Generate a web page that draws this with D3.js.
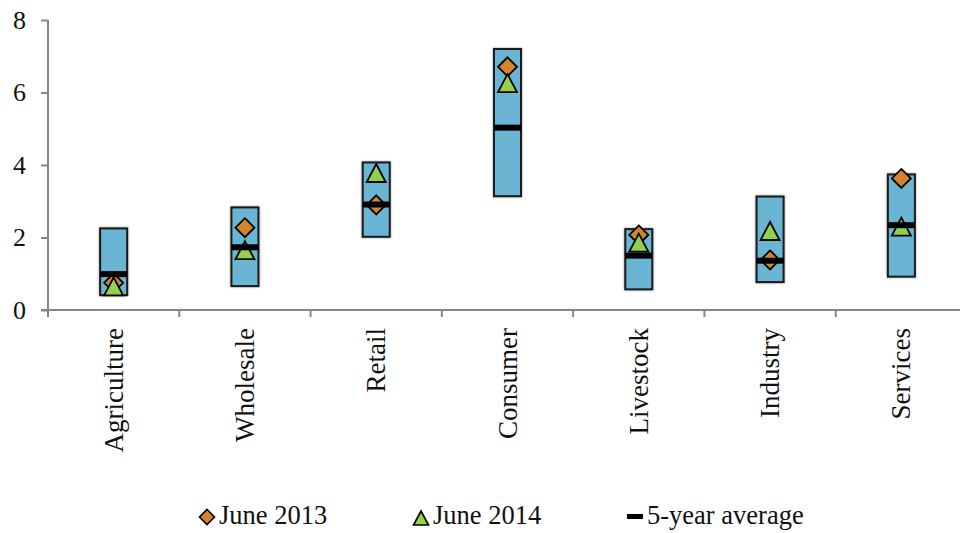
<!DOCTYPE html>
<html>
<head>
<meta charset="utf-8">
<script src="https://cdn.jsdelivr.net/npm/d3@7/dist/d3.min.js"></script>
<style>
  html, body { margin: 0; padding: 0; background: #fff; }
  svg { display: block; }
  text { font-family: "Liberation Serif", "Times New Roman", serif; fill: #111; }
</style>
</head>
<body>
<svg id="chart" width="960" height="533"></svg>
<script>
// Sectors and their ranges
const categories = ["Agriculture", "Wholesale", "Retail", "Consumer", "Livestock", "Industry", "Services"];
const rangeLow   = [0.41, 0.66, 2.02, 3.14, 0.57, 0.77, 0.92];
const rangeHigh  = [2.25, 2.83, 4.07, 7.20, 2.23, 3.13, 3.74];
const june2013   = [0.75, 2.27, 2.90, 6.71, 2.07, 1.38, 3.63];
const june2014   = [0.65, 1.65, 3.78, 6.26, 1.86, 2.18, 2.30];
const fiveYearAvg = [0.99, 1.73, 2.91, 5.03, 1.50, 1.36, 2.34];
const yTicks = [0, 2, 4, 6, 8];
const seriesNames = ["June 2013", "June 2014", "5-year average"];

const colors = { box: "#6BB5D3", diamond: "#D6842A", triangle: "#92D050", axis: "#868686" };
const serif = "Liberation Serif, Times New Roman, serif";

const svg = d3.select("#chart");

const x = d3.scaleBand().domain(categories).range([48, 967]).padding(0);
const y = d3.scaleLinear().domain([0, 8]).range([310, 20]);

const defs = svg.append("defs");
const f = defs.append("filter").attr("id", "soft").attr("x", "-30%").attr("y", "-10%").attr("width", "160%").attr("height", "120%");
f.append("feDropShadow").attr("dx", 0).attr("dy", 0).attr("stdDeviation", 1.2).attr("flood-color", "#000").attr("flood-opacity", 0.45);

// Y axis
const yAxis = svg.append("g").attr("transform", "translate(48,0)")
  .call(d3.axisLeft(y).tickValues(yTicks).tickSize(7).tickPadding(15).tickFormat(d3.format("d")))
  .attr("font-family", serif).attr("font-size", 26);
yAxis.select(".domain").attr("stroke", colors.axis).attr("stroke-width", 2).attr("d", `M0,${y(8)}V${y(0)}`);
yAxis.selectAll(".tick line").attr("stroke", colors.axis).attr("stroke-width", 2);
yAxis.selectAll(".tick text").attr("fill", "#111").attr("dy", "0.32em")
  .style("font-family", serif).style("font-size", "26px");

// X axis: baseline plus ticks at category boundaries
const xAxis = svg.append("g");
xAxis.append("line").attr("x1", 41).attr("x2", 967).attr("y1", y(0)).attr("y2", y(0))
  .attr("stroke", colors.axis).attr("stroke-width", 2);
const bounds = categories.map(c => x(c));
xAxis.selectAll("line.tk").data(bounds).join("line").attr("class", "tk")
  .attr("x1", d => d).attr("x2", d => d).attr("y1", y(0)).attr("y2", y(0) + 7)
  .attr("stroke", colors.axis).attr("stroke-width", 2);
xAxis.selectAll("text").data(categories).join("text")
  .attr("transform", d => `translate(${x(d) + x.bandwidth() / 2 + 9},${y(0) + 18}) rotate(-90)`)
  .attr("text-anchor", "end")
  .style("font-size", "27px")
  .text(d => d);

// Ranges as boxes
const boxW = 27;
const rows = categories.map((c, i) => ({ c, lo: rangeLow[i], hi: rangeHigh[i], a: june2013[i], b: june2014[i], avg: fiveYearAvg[i] }));
const cx = d => x(d.c) + x.bandwidth() / 2;

svg.append("g").selectAll("rect").data(rows).join("rect")
  .attr("x", d => cx(d) - boxW / 2)
  .attr("y", d => y(d.hi))
  .attr("width", boxW)
  .attr("height", d => y(d.lo) - y(d.hi))
  .attr("fill", colors.box)
  .attr("stroke", "#1a1a1a").attr("stroke-width", 2)
  .attr("filter", "url(#soft)");

const diamondPath = s => `M0,${-s / 2}L${s / 2},0L0,${s / 2}L${-s / 2},0Z`;
const trianglePath = (w, h) => `M0,${-h / 2}L${w / 2},${h / 2}L${-w / 2},${h / 2}Z`;

svg.append("g").selectAll("path").data(rows).join("path")
  .attr("transform", d => `translate(${cx(d)},${y(d.a)})`)
  .attr("d", diamondPath(19))
  .attr("fill", colors.diamond).attr("stroke", "#000").attr("stroke-width", 1.8).attr("stroke-linejoin", "miter");

svg.append("g").selectAll("path").data(rows).join("path")
  .attr("transform", d => `translate(${cx(d)},${y(d.b)})`)
  .attr("d", trianglePath(19, 18))
  .attr("fill", colors.triangle).attr("stroke", "#000").attr("stroke-width", 1.8).attr("stroke-linejoin", "miter");

svg.append("g").selectAll("rect").data(rows).join("rect")
  .attr("x", d => cx(d) - boxW / 2)
  .attr("y", d => y(d.avg) - 3)
  .attr("width", boxW)
  .attr("height", 6)
  .attr("fill", "#000");

// Legend
const legend = svg.append("g");
const ly = 517;
legend.append("path").attr("transform", `translate(207,${ly})`).attr("d", diamondPath(15))
  .attr("fill", colors.diamond).attr("stroke", "#000").attr("stroke-width", 1.6);
legend.append("text").attr("x", 219).attr("y", 524).style("font-size", "26.5px").text(seriesNames[0]);
legend.append("path").attr("transform", `translate(421,${ly + 1})`).attr("d", trianglePath(15, 14))
  .attr("fill", colors.triangle).attr("stroke", "#000").attr("stroke-width", 1.6);
legend.append("text").attr("x", 433).attr("y", 524).style("font-size", "26.5px").text(seriesNames[1]);
legend.append("rect").attr("x", 627).attr("y", ly - 3).attr("width", 16).attr("height", 5).attr("fill", "#000");
legend.append("text").attr("x", 647).attr("y", 524).style("font-size", "26.5px").text(seriesNames[2]);
</script>
</body>
</html>
